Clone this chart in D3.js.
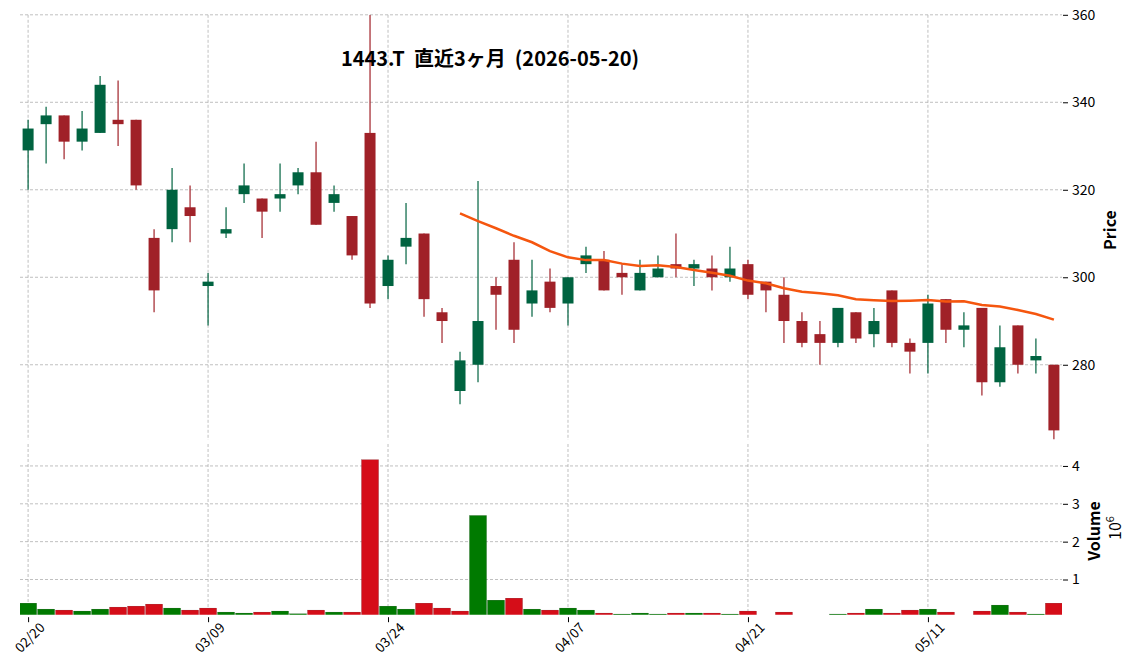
<!DOCTYPE html>
<html>
<head>
<meta charset="utf-8">
<script src="https://cdn.jsdelivr.net/npm/d3@7"></script>
<style>
  body { margin: 0; background: #fff; }
  svg text { font-family: "Noto Sans CJK JP", "Noto Sans", sans-serif; fill: #000; }
  .grid line { stroke: #b0b0b0; stroke-width: 0.8; stroke-dasharray: 3 2; }
  .title { white-space: pre; }
</style>
</head>
<body>
<svg id="chart" width="1136" height="672"></svg>
<script>
// daily data (1443.T, last 3 months)
const dates = ["02/20","02/24","02/25","02/26","02/27","03/02","03/03","03/04","03/05","03/06",
  "03/09","03/10","03/11","03/12","03/13","03/16","03/17","03/18","03/19","03/23",
  "03/24","03/25","03/26","03/27","03/30","03/31","04/01","04/02","04/03","04/06",
  "04/07","04/08","04/09","04/10","04/13","04/14","04/15","04/16","04/17","04/20",
  "04/21","04/22","04/23","04/24","04/27","04/28","04/30","05/01","05/07","05/08",
  "05/11","05/12","05/13","05/14","05/15","05/18","05/19","05/20"];
const opens = [329,335,337,331,333,336,336,309,311,316, 298,310,319,318,318,321,324,317,314,333,
  298,307,310,292,274,280,298,304,294,299, 294,303,304,301,297,300,303,302,302,300,
  303,299,296,290,287,285,292,287,297,285, 285,295,288,293,276,289,281,280];
const highs = [336,339,337,338,346,345,336,311,325,321, 301,316,326,318,326,325,331,321,314,360,
  305,317,310,293,283,322,300,308,304,302, 300,307,306,303,304,305,310,304,305,307,
  304,299,300,292,290,293,292,293,297,286, 296,295,292,293,289,289,286,280];
const lows = [320,326,327,329,333,330,320,292,308,308, 289,309,317,309,315,319,312,315,304,293,
  295,303,291,285,271,276,288,285,291,292, 289,301,297,296,297,300,300,298,297,299,
  295,292,285,284,280,284,285,284,284,278, 278,285,284,273,275,278,278,263];
const closes = [334,337,331,334,344,335,321,297,320,314, 299,311,321,315,319,324,312,319,305,294,
  304,309,295,290,281,290,296,288,297,293, 300,305,297,300,301,302,302,303,300,302,
  296,297,290,285,285,293,286,290,285,283, 294,288,289,276,284,280,282,265];
// volume in millions of shares
const volumes = [0.377,0.219,0.193,0.167,0.219,0.272,0.298,0.351,0.246,0.193,
  0.246,0.140,0.114,0.140,0.167,0.096,0.193,0.140,0.140,4.167,
  0.298,0.219,0.377,0.246,0.167,2.693,0.456,0.509,0.219,0.193,
  0.246,0.193,0.114,0.088,0.114,0.088,0.114,0.114,0.114,0.088,
  0.167,0,0.140,0,0,0.088,0.114,0.219,0.114,0.193,
  0.219,0.140,0,0.167,0.325,0.140,0.088,0.377];
const tickIdx = [0, 10, 20, 30, 40, 50];
const priceTicks = [280, 300, 320, 340, 360];
const volTicks = [1, 2, 3, 4];
const maWindow = 25;

const colUp = "#006340", colDown = "#a02128";
const volUp = "#007a00", volDown = "#d50d18";

const svg = d3.select("#chart");
const left = 20, right = 1062;
const pTop = 14.8, pBottom = 440, vTop = 444, vBottom = 614.7;

const x = d3.scaleLinear().domain([-0.45, dates.length - 0.55]).range([left, right]);
const y = d3.scaleLinear().domain([262.8, 360]).range([pBottom, pTop]);
const yv = d3.scaleLinear().domain([0.07, 4.58]).range([vBottom, vTop]);

// clip paths
const defs = svg.append("defs");
defs.append("clipPath").attr("id", "clipP").append("rect")
  .attr("x", left).attr("y", pTop).attr("width", right - left).attr("height", pBottom - pTop);
defs.append("clipPath").attr("id", "clipV").append("rect")
  .attr("x", left).attr("y", vTop).attr("width", right - left).attr("height", vBottom - vTop);

// grid
const grid = svg.append("g").attr("class", "grid");
grid.selectAll(".hp").data(priceTicks).join("line")
  .attr("x1", left).attr("x2", right).attr("y1", d => y(d)).attr("y2", d => y(d));
grid.selectAll(".hv").data(volTicks).join("line").attr("class", "hv")
  .attr("x1", left).attr("x2", right).attr("y1", d => yv(d)).attr("y2", d => yv(d));
grid.selectAll(".vp").data(tickIdx).join("line").attr("class", "vp")
  .attr("x1", d => x(d)).attr("x2", d => x(d)).attr("y1", pTop).attr("y2", pBottom);
grid.selectAll(".vv").data(tickIdx).join("line").attr("class", "vv")
  .attr("x1", d => x(d)).attr("x2", d => x(d)).attr("y1", vTop).attr("y2", vBottom);

// candles
const idx = d3.range(dates.length);
const cg = svg.append("g").attr("clip-path", "url(#clipP)");
const candleColor = i => closes[i] >= opens[i] ? colUp : colDown;
cg.selectAll(".wick").data(idx).join("line")
  .attr("x1", i => x(i)).attr("x2", i => x(i))
  .attr("y1", i => y(highs[i])).attr("y2", i => y(lows[i]))
  .attr("stroke", candleColor).attr("stroke-width", 1.2);
cg.selectAll(".body").data(idx).join("rect")
  .attr("x", i => x(i) - 5.5).attr("width", 11)
  .attr("y", i => y(Math.max(opens[i], closes[i])))
  .attr("height", i => Math.max(1, Math.abs(y(opens[i]) - y(closes[i]))))
  .attr("fill", candleColor);

// moving average
const ma = idx.filter(i => i >= maWindow - 1)
  .map(i => [i, d3.mean(closes.slice(i - maWindow + 1, i + 1))]);
cg.append("path").datum(ma)
  .attr("fill", "none").attr("stroke", "#f5560f").attr("stroke-width", 2.5)
  .attr("d", d3.line().x(d => x(d[0])).y(d => y(d[1])));

// volume
const vg = svg.append("g").attr("clip-path", "url(#clipV)");
vg.selectAll("rect").data(idx).join("rect")
  .attr("x", i => x(i) - 8.6).attr("width", 17.2)
  .attr("y", i => yv(volumes[i])).attr("height", i => Math.max(0, yv(0) - yv(volumes[i])))
  .attr("fill", i => (i === 0 || closes[i] > closes[i - 1]) ? volUp : volDown)
  .attr("stroke", "#333").attr("stroke-width", 0.15);

// right axes
const yAxis = d3.axisRight(y).tickValues(priceTicks).tickSize(5).tickPadding(4);
svg.append("g").attr("transform", `translate(${right + 1},0)`).call(yAxis)
  .call(g => g.select(".domain").remove())
  .call(g => g.selectAll("text").attr("font-size", 14));
const vAxis = d3.axisRight(yv).tickValues(volTicks).tickFormat(d3.format("d")).tickSize(5).tickPadding(4);
svg.append("g").attr("transform", `translate(${right + 1},0)`).call(vAxis)
  .call(g => g.select(".domain").remove())
  .call(g => g.selectAll("text").attr("font-size", 14));

// x axis
const xAxis = d3.axisBottom(x).tickValues(tickIdx).tickFormat(i => dates[i]).tickSize(5).tickPadding(3);
svg.append("g").attr("transform", `translate(0,${vBottom + 2.5})`).call(xAxis)
  .call(g => g.select(".domain").remove())
  .call(g => g.selectAll("text").attr("font-size", 13.5)
    .attr("text-anchor", "end").attr("dx", "0.3em").attr("dy", "0.9em")
    .attr("transform", "rotate(-45)"));

// labels
svg.append("text").attr("transform", "translate(1116,230) rotate(-90)")
  .attr("text-anchor", "middle").attr("font-size", 16).attr("font-weight", "bold").text("Price");
svg.append("text").attr("transform", "translate(1100,531) rotate(-90)")
  .attr("text-anchor", "middle").attr("font-size", 16).attr("font-weight", "bold").text("Volume");
const off = svg.append("text").attr("transform", "translate(1121,528) rotate(-90)")
  .attr("text-anchor", "middle").attr("font-size", 16);
off.append("tspan").text("10");
off.append("tspan").attr("font-size", 11).attr("dy", "-0.6em").text("6");

svg.append("text").attr("class", "title").attr("x", 490).attr("y", 66).attr("text-anchor", "middle")
  .attr("font-size", 20).attr("font-weight", "bold").text("1443.T  直近3ヶ月  (2026-05-20)");
</script>
</body>
</html>
